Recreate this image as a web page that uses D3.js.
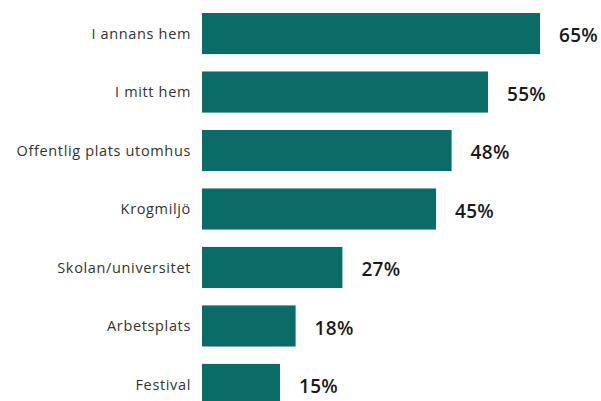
<!DOCTYPE html>
<html>
<head>
<meta charset="utf-8">
<script src="https://cdn.jsdelivr.net/npm/d3@7"></script>
<style>
body { margin: 0; background: #fff; }
</style>
</head>
<body>
<svg id="chart" width="601" height="401"></svg>
<script>
var categories = ["I annans hem", "I mitt hem", "Offentlig plats utomhus", "Krogmiljö", "Skolan/universitet", "Arbetsplats", "Festival"];
var values = [65, 55, 48, 45, 27, 18, 15];

var svg = d3.select("#chart");

// bars start at x=202, 5.2px per percent
var x = d3.scaleLinear().domain([0, 65]).range([202, 540]);
var y = d3.scaleBand().domain(categories).range([13, 405]).paddingInner(0.297).paddingOuter(0);

svg.selectAll("rect.bar")
	.data(values).enter().append("rect")
	.attr("class", "bar")
	.attr("x", x(0))
	.attr("y", function(d, i) { return y(categories[i]); })
	.attr("width", function(d) { return x(d) - x(0); })
	.attr("height", y.bandwidth())
	.attr("fill", "#0a6b67");

svg.selectAll("text.cat")
	.data(categories).enter().append("text")
	.attr("class", "cat")
	.attr("x", 191)
	.attr("y", function(d) { return y(d) + y.bandwidth() / 2; })
	.attr("dy", "0.35em")
	.attr("text-anchor", "end")
	.attr("font-family", "'Open Sans', sans-serif")
	.attr("font-size", 14.5)
	.attr("letter-spacing", 0.65)
	.attr("fill", "#333")
	.text(function(d) { return d; });

svg.selectAll("text.val")
	.data(values).enter().append("text")
	.attr("class", "val")
	.attr("x", function(d) { return x(d) + 19; })
	.attr("y", function(d, i) { return y(categories[i]) + y.bandwidth() / 2 + 2; })
	.attr("dy", "0.35em")
	.attr("font-family", "'Open Sans', sans-serif")
	.attr("font-weight", 600)
	.attr("font-size", 19)
	.attr("letter-spacing", 0.3)
	.attr("fill", "#1a1a1a")
	.text(function(d) { return d + "%"; });
</script>
</body>
</html>
